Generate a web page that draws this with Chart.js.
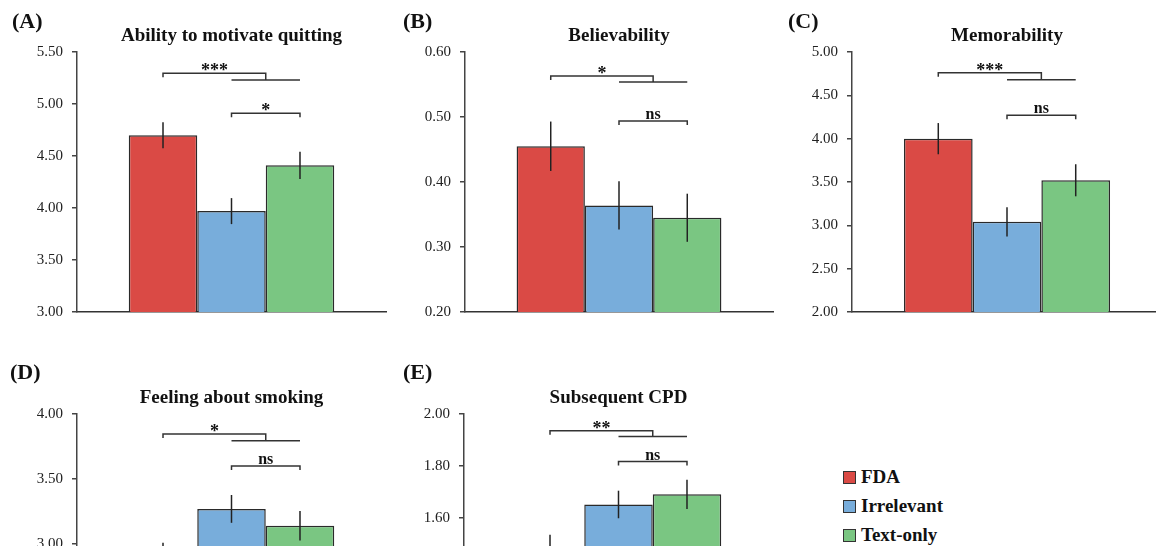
<!DOCTYPE html>
<html>
<head>
<meta charset="utf-8">
<script src="https://cdn.jsdelivr.net/npm/chart.js@4.4.1/dist/chart.umd.min.js"></script>
<style>
  html, body { margin: 0; padding: 0; background: #fff; overflow: hidden; }
  body { width: 1156px; height: 546px; position: relative; font-family: "Liberation Serif", "Times New Roman", serif; color: #111; }
  canvas { position: absolute; }
  .tag { position: absolute; font-weight: bold; font-size: 22px; line-height: 22px; white-space: nowrap; }
  .key { position: absolute; left: 843px; height: 19px; font-weight: bold; font-size: 19px; line-height: 19px; white-space: nowrap; }
  .key span { position: absolute; left: 0; top: 4px; width: 11px; height: 11px; border: 1px solid #333; }
  .key b { position: absolute; left: 18px; top: 0; }
</style>
</head>
<body>
<script>
'use strict';

const groups = ['FDA', 'Irrelevant', 'Text-only'];
const groupColors = ['#DA4A45', '#78ADDB', '#7AC682'];

const titles = ['Ability to motivate quitting', 'Believability', 'Memorability', 'Feeling about smoking', 'Subsequent CPD'];
const tags = ['(A)', '(B)', '(C)', '(D)', '(E)'];

// means, order FDA / Irrelevant / Text-only
const motivate = [4.70, 3.97, 4.41];
const believe = [0.455, 0.364, 0.345];
const memory = [4.00, 3.04, 3.52];
const feeling = [2.90, 3.27, 3.14];
const cpd = [1.48, 1.652, 1.691];

// error bar half lengths
const motivateErr = [0.125, 0.125, 0.13];
const believeErr = [0.038, 0.037, 0.037];
const memoryErr = [0.18, 0.17, 0.185];
const feelingErr = [0.11, 0.107, 0.113];
const cpdErr = [0.056, 0.053, 0.056];

const yMin = [3.00, 0.20, 2.00, 2.00, 1.00];
const yMax = [5.50, 0.60, 5.00, 4.00, 2.00];
const yStep = [0.50, 0.10, 0.50, 0.50, 0.20];

// significance brackets: FDA vs (Irrelevant + Text-only), then Irrelevant vs Text-only
const sigOuterY = [5.295, 0.563, 4.76, 3.846, 1.936];
const sigJoinY = [5.23, 0.554, 4.68, 3.795, 1.913];
const sigOuterText = ['***', '*', '***', '*', '**'];
const sigInnerY = [4.91, 0.494, 4.27, 3.60, 1.817];
const sigInnerText = ['*', 'ns', 'ns', 'ns', 'ns'];

const means = [motivate, believe, memory, feeling, cpd];
const errs = [motivateErr, believeErr, memoryErr, feelingErr, cpdErr];

// page placement of each panel (plot area edges)
const frames = [
  {left: 0, top: 0, axisX: 77, right: 386, plotTop: 52, plotBottom: 312, tagX: 12, tagTop: 10},
  {left: 385, top: 0, axisX: 465, right: 773, plotTop: 52, plotBottom: 312, tagX: 403, tagTop: 10},
  {left: 770, top: 0, axisX: 852, right: 1162, plotTop: 52, plotBottom: 312, tagX: 788, tagTop: 10},
  {left: 0, top: 360, axisX: 77, right: 386, plotTop: 414, plotBottom: 674, tagX: 10, tagTop: 361},
  {left: 385, top: 360, axisX: 464, right: 773, plotTop: 414, plotBottom: 674, tagX: 403, tagTop: 361}
];

Chart.defaults.font.family = '"Liberation Serif", "Times New Roman", serif';
Chart.defaults.color = '#222';

const extras = {
  id: 'extras',
  afterDatasetsDraw(chart, args, opts) {
    const ctx = chart.ctx;
    const ca = chart.chartArea;
    const ys = chart.scales.y;
    const k = opts.panel;
    const bars = [0, 1, 2].map(i => chart.getDatasetMeta(i).data[0]);

    ctx.save();
    // error bars
    ctx.strokeStyle = '#222';
    ctx.lineWidth = 1.5;
    bars.forEach((bar, i) => {
      ctx.beginPath();
      ctx.moveTo(bar.x, ys.getPixelForValue(means[k][i] + errs[k][i]));
      ctx.lineTo(bar.x, ys.getPixelForValue(means[k][i] - errs[k][i]));
      ctx.stroke();
    });

    // brackets
    const xa = bars[0].x;
    const xb = bars[1].x;
    const xc = bars[2].x;
    const xm = (bars[1].x + bars[2].x) / 2;
    const yo = ys.getPixelForValue(sigOuterY[k]);
    const yj = ys.getPixelForValue(sigJoinY[k]);
    const yi = ys.getPixelForValue(sigInnerY[k]);
    ctx.strokeStyle = '#333';
    ctx.beginPath();
    ctx.moveTo(xa, yo + 4);
    ctx.lineTo(xa, yo);
    ctx.lineTo(xm, yo);
    ctx.lineTo(xm, yj);
    ctx.moveTo(xb, yj);
    ctx.lineTo(xc, yj);
    ctx.moveTo(xb, yi + 4);
    ctx.lineTo(xb, yi);
    ctx.lineTo(xc, yi);
    ctx.lineTo(xc, yi + 4);
    ctx.stroke();

    ctx.fillStyle = '#111';
    ctx.textAlign = 'center';
    ctx.textBaseline = 'alphabetic';
    const label = (txt, x, y) => {
      if (txt === 'ns') {
        ctx.font = 'bold 16px "Liberation Serif", serif';
        ctx.fillText(txt, x, y - 2);
      } else {
        ctx.font = 'bold 18px "Liberation Serif", serif';
        ctx.fillText(txt, x, y + 3);
      }
    };
    label(sigOuterText[k], (xa + xm) / 2, yo);
    label(sigInnerText[k], (xb + xc) / 2, yi);

    // panel title
    ctx.font = 'bold 19px "Liberation Serif", serif';
    ctx.fillText(titles[k], (ca.left + ca.right) / 2, ca.top - 11);
    ctx.restore();
  }
};

frames.forEach((f, k) => {
  const canvas = document.createElement('canvas');
  const w = f.right + 4 - f.left;
  const h = f.plotBottom + 18 - f.top;
  canvas.width = w;
  canvas.height = h;
  canvas.style.left = f.left + 'px';
  canvas.style.top = f.top + 'px';
  document.body.appendChild(canvas);

  const tag = document.createElement('div');
  tag.className = 'tag';
  tag.style.left = f.tagX + 'px';
  tag.style.top = f.tagTop + 'px';
  tag.textContent = tags[k];
  document.body.appendChild(tag);

  new Chart(canvas.getContext('2d'), {
    type: 'bar',
    data: {
      labels: [''],
      datasets: groups.map((g, i) => ({
        label: g,
        data: [means[k][i]],
        backgroundColor: groupColors[i],
        borderColor: '#2a2a2a',
        borderWidth: 1.5,
        borderSkipped: false
      }))
    },
    options: {
      responsive: false,
      animation: false,
      events: [],
      categoryPercentage: 0.665,
      barPercentage: 1,
      layout: {
        padding: {left: 0, right: 4, top: f.plotTop - f.top, bottom: 18}
      },
      plugins: {
        legend: {display: false},
        title: {display: false},
        tooltip: {enabled: false},
        extras: {panel: k}
      },
      scales: {
        x: {
          ticks: {display: false},
          grid: {display: false, drawTicks: false},
          border: {display: true, color: '#333', width: 1.5},
          afterFit: s => { s.height = 0; }
        },
        y: {
          min: yMin[k],
          max: yMax[k],
          ticks: {
            stepSize: yStep[k],
            padding: 9,
            color: '#222',
            font: {size: 15},
            callback: v => Number(v).toFixed(2)
          },
          grid: {drawOnChartArea: false, drawTicks: true, tickLength: 5, color: '#444', lineWidth: 1.5},
          border: {display: true, color: '#444', width: 1.5},
          afterFit: s => { s.width = f.axisX - f.left; }
        }
      }
    },
    plugins: [extras]
  });
});

// legend
const keyTops = [467, 496, 525];
groups.forEach((g, i) => {
  const row = document.createElement('div');
  row.className = 'key';
  row.style.top = keyTops[i] + 'px';
  row.innerHTML = `<span style="background:${groupColors[i]}"></span><b>${g}</b>`;
  document.body.appendChild(row);
});
</script>
</body>
</html>
